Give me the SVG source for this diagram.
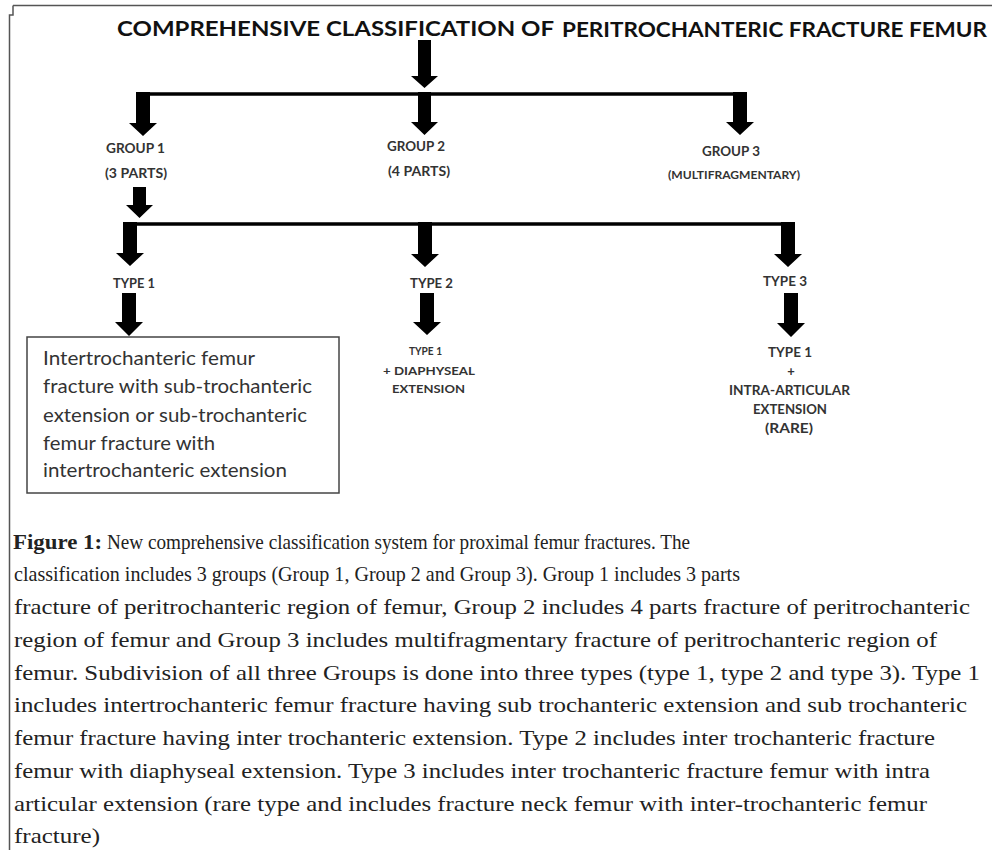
<svg xmlns="http://www.w3.org/2000/svg" width="995" height="850" viewBox="0 0 995 850">
<style>
.frame{fill:none;stroke:#555;stroke-width:1.5}
.arrow{fill:#000}
.hline{stroke:#000;stroke-width:3.5;fill:none}
.title{font-family:Lato,"Open Sans","Liberation Sans",sans-serif;font-weight:bold;font-size:20px;fill:#111}
.lbl{font-family:Lato,"Open Sans","Liberation Sans",sans-serif;font-weight:bold;font-size:13px;fill:#333;text-anchor:middle}
.sm{font-size:11px}
.box{fill:#fff;stroke:#444;stroke-width:1.5}
.boxt{font-family:Lato,"Open Sans","Liberation Sans",sans-serif;font-size:19px;fill:#333}
.cap{font-family:"Liberation Serif","Times New Roman",serif;font-size:21px;fill:#222}
.capb{font-weight:bold}
</style>
<rect width="995" height="850" fill="#fff"/>
<path class="frame" d="M13,5.5 H992 M13,5.5 V15 H9.5 V850"/>

<g id="title">
<text class="title" x="117" y="36" textLength="437" lengthAdjust="spacingAndGlyphs">COMPREHENSIVE CLASSIFICATION OF</text>
<text class="title" x="562" y="37" textLength="425" lengthAdjust="spacingAndGlyphs">PERITROCHANTERIC FRACTURE FEMUR</text>
</g>

<g id="connectors">
<path class="hline" d="M143,94 H741"/>
<path class="hline" d="M130,224 H789"/>
<path class="arrow" d="M418,40 H431 V76 H438 L424.5,88 L411,76 H418 Z"/>
<path class="arrow" d="M136,92 H150 V123 H157 L143,136 L129,123 H136 Z"/>
<path class="arrow" d="M418,92 H431 V122 H438 L424.5,135 L411,122 H418 Z"/>
<path class="arrow" d="M733,92 H747 V122 H754 L740,135 L726,122 H733 Z"/>
<path class="arrow" d="M133,187 H146 V205 H153 L139.5,218 L126,205 H133 Z"/>
<path class="arrow" d="M123,222 H137 V253 H144 L130,266 L116,253 H123 Z"/>
<path class="arrow" d="M418,222 H432 V254 H439 L425,267 L411,254 H418 Z"/>
<path class="arrow" d="M781,222 H795 V254 H802 L788,267 L774,254 H781 Z"/>
<path class="arrow" d="M122,293 H136 V322 H143 L129,336 L115,322 H122 Z"/>
<path class="arrow" d="M420,293 H434 V322 H441 L427,335 L413,322 H420 Z"/>
<path class="arrow" d="M784,293 H798 V323 H805 L791,337 L777,323 H784 Z"/>
</g>

<g id="group1">
<text class="lbl" x="135.5" y="153" textLength="59" lengthAdjust="spacingAndGlyphs">GROUP 1</text>
<text class="lbl" x="136" y="178" textLength="62" lengthAdjust="spacingAndGlyphs">(3 PARTS)</text>
</g>
<g id="group2">
<text class="lbl" x="416" y="151" textLength="58" lengthAdjust="spacingAndGlyphs">GROUP 2</text>
<text class="lbl" x="419" y="176" textLength="62" lengthAdjust="spacingAndGlyphs">(4 PARTS)</text>
</g>
<g id="group3">
<text class="lbl" x="731" y="156" textLength="58" lengthAdjust="spacingAndGlyphs">GROUP 3</text>
<text class="lbl sm" x="734" y="179" textLength="132" lengthAdjust="spacingAndGlyphs">(MULTIFRAGMENTARY)</text>
</g>

<g id="type1">
<text class="lbl" x="134" y="288" textLength="42" lengthAdjust="spacingAndGlyphs">TYPE 1</text>
</g>
<g id="type2">
<text class="lbl" x="431.5" y="288" textLength="43" lengthAdjust="spacingAndGlyphs">TYPE 2</text>
</g>
<g id="type3">
<text class="lbl" x="785" y="286" textLength="44" lengthAdjust="spacingAndGlyphs">TYPE 3</text>
</g>

<g id="type1-desc">
<rect class="box" x="27" y="337" width="312" height="156"/>
<text class="boxt" x="43" y="365" textLength="212" lengthAdjust="spacingAndGlyphs">Intertrochanteric femur</text>
<text class="boxt" x="43" y="393" textLength="269" lengthAdjust="spacingAndGlyphs">fracture with sub-trochanteric</text>
<text class="boxt" x="43" y="422" textLength="264" lengthAdjust="spacingAndGlyphs">extension or sub-trochanteric</text>
<text class="boxt" x="43" y="450" textLength="172" lengthAdjust="spacingAndGlyphs">femur fracture with</text>
<text class="boxt" x="43" y="477" textLength="244" lengthAdjust="spacingAndGlyphs">intertrochanteric extension</text>
</g>

<g id="type2-desc">
<text class="lbl sm" x="425.5" y="355" textLength="33" lengthAdjust="spacingAndGlyphs">TYPE 1</text>
<text class="lbl sm" x="429" y="375" textLength="92" lengthAdjust="spacingAndGlyphs">+ DIAPHYSEAL</text>
<text class="lbl sm" x="428.5" y="393" textLength="73" lengthAdjust="spacingAndGlyphs">EXTENSION</text>
</g>

<g id="type3-desc">
<text class="lbl" x="790" y="357" textLength="44" lengthAdjust="spacingAndGlyphs">TYPE 1</text>
<text class="lbl" x="791" y="376">+</text>
<text class="lbl" x="789.5" y="395" textLength="121" lengthAdjust="spacingAndGlyphs">INTRA-ARTICULAR</text>
<text class="lbl" x="790" y="414" textLength="74" lengthAdjust="spacingAndGlyphs">EXTENSION</text>
<text class="lbl" x="789" y="433" style="font-size:14px" textLength="48" lengthAdjust="spacingAndGlyphs">(RARE)</text>
</g>

<g id="caption">
<text class="cap capb" x="13" y="549" textLength="89" lengthAdjust="spacingAndGlyphs">Figure 1:</text>
<text class="cap" x="107" y="549" textLength="583" lengthAdjust="spacingAndGlyphs">New comprehensive classification system for proximal femur fractures. The</text>
<text class="cap" x="14" y="581" textLength="726" lengthAdjust="spacingAndGlyphs">classification includes 3 groups (Group 1, Group 2 and Group 3). Group 1 includes 3 parts</text>
<text class="cap" x="14" y="614" textLength="956" lengthAdjust="spacingAndGlyphs">fracture of peritrochanteric region of femur, Group 2 includes 4 parts fracture of peritrochanteric</text>
<text class="cap" x="14" y="647" textLength="923" lengthAdjust="spacingAndGlyphs">region of femur and Group 3 includes multifragmentary fracture of peritrochanteric region of</text>
<text class="cap" x="14" y="680" textLength="966" lengthAdjust="spacingAndGlyphs">femur. Subdivision of all three Groups is done into three types (type 1, type 2 and type 3). Type 1</text>
<text class="cap" x="14" y="712" textLength="953" lengthAdjust="spacingAndGlyphs">includes intertrochanteric femur fracture having sub trochanteric extension and sub trochanteric</text>
<text class="cap" x="14" y="745" textLength="921" lengthAdjust="spacingAndGlyphs">femur fracture having inter trochanteric extension. Type 2 includes inter trochanteric fracture</text>
<text class="cap" x="14" y="778" textLength="916" lengthAdjust="spacingAndGlyphs">femur with diaphyseal extension. Type 3 includes inter trochanteric fracture femur with intra</text>
<text class="cap" x="14" y="811" textLength="913" lengthAdjust="spacingAndGlyphs">articular extension (rare type and includes fracture neck femur with inter-trochanteric femur</text>
<text class="cap" x="14" y="843" textLength="86" lengthAdjust="spacingAndGlyphs">fracture)</text>
</g>
</svg>
